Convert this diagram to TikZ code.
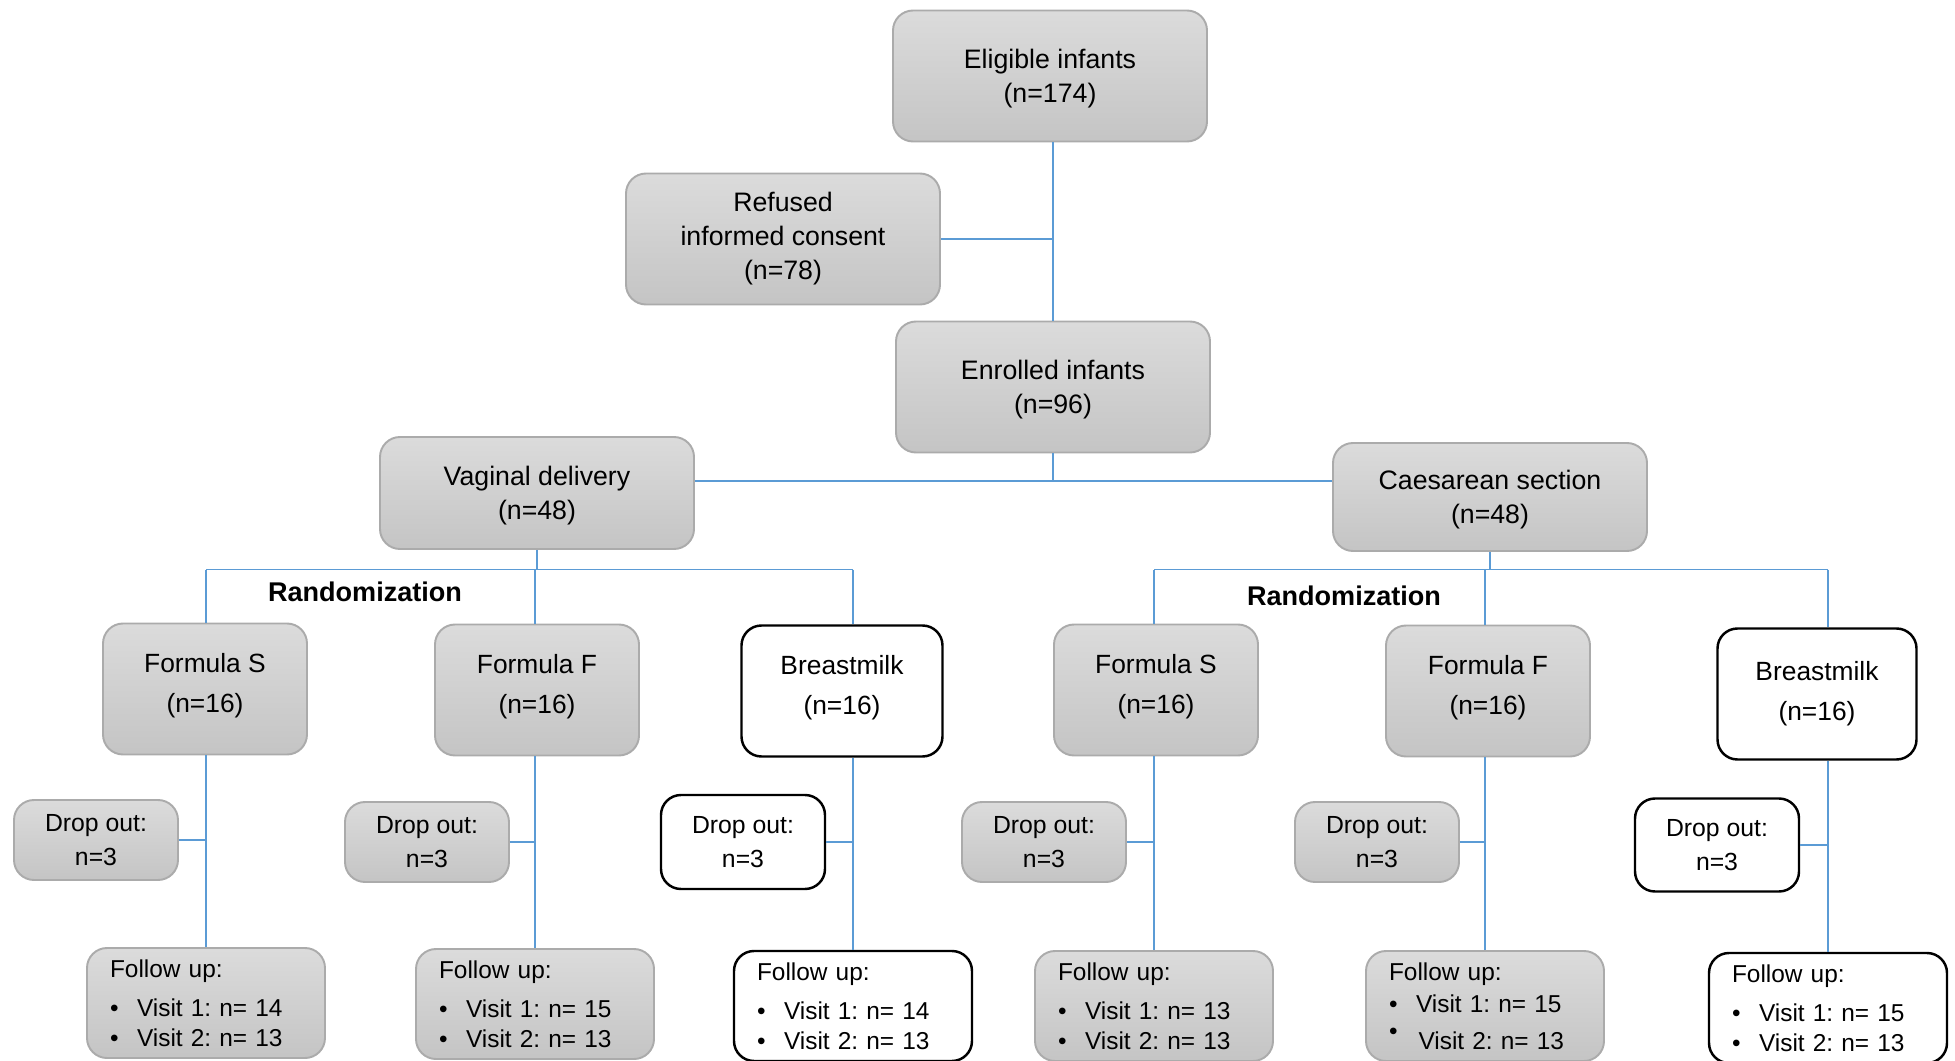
\documentclass[tikz,border=0pt]{standalone}
\usepackage{fontspec}
\setmainfont{Liberation Sans}
\frenchspacing
\tikzset{>=latex}
\usetikzlibrary{calc}
\definecolor{linkblue}{HTML}{5B9BD5}
\tikzset{
  box/.style={rectangle, rounded corners=0.4cm, align=center, inner sep=2pt},
  grbox/.style={box, draw=black!33, line width=1.1pt, top color=gray!28, bottom color=gray!46},
  whbox/.style={box, draw=black, line width=1.4pt, fill=white},
  link/.style={draw=linkblue, line width=1.1pt},
  big/.style={minimum width=6.28cm, minimum height=2.62cm, font=\fontsize{15.2}{19.3}\selectfont},
  two/.style={text depth=-0.2cm},
  arm/.style={minimum width=4.08cm, minimum height=2.62cm, text depth=0.25cm, font=\fontsize{15}{22.7}\selectfont},
  drop/.style={minimum width=3.28cm, minimum height=1.6cm, font=\fontsize{14.1}{19}\selectfont},
  fup/.style={minimum width=4.76cm, minimum height=2.2cm, text width=3.84cm, inner xsep=0.46cm,
    align=left, font=\fontsize{13.9}{17}\selectfont},
  rand/.style={font=\fontsize{15.4}{18}\selectfont\bfseries}
}
\newcommand{\bul}{\textbullet\hspace{0.37cm}}

\begin{document}
\begin{tikzpicture}
  \useasboundingbox (0,0) rectangle (39.1,-21.22);
  % top of the chart
  \node[grbox,big,two] (eli) at (21.0,-1.52) {Eligible infants\\(n=174)};
  \node[grbox,big] (ref) at (15.66,-4.78) {Refused\\informed consent\\(n=78)};
  \node[grbox,big,two] (enr) at (21.06,-7.74) {Enrolled infants\\(n=96)};
  \node[grbox,big,two,minimum height=2.24cm] (vag) at (10.74,-9.86) {Vaginal delivery\\(n=48)};
  \node[grbox,big,two,minimum height=2.16cm] (cs) at (29.8,-9.94) {Caesarean section\\(n=48)};
  \coordinate (bar) at (21.06,-9.62);
  \coordinate (br) at (0,-11.39);
  \node[rand] (rnd1) at (7.3,-11.84) {Randomization};
  \node[rand] (rnd2) at (26.88,-11.92) {Randomization};
  % study arms
  \node[grbox,arm] (arm1) at (4.10,-13.78) {Formula S\\(n=16)};
  \node[grbox,arm] (arm2) at (10.74,-13.80) {Formula F\\(n=16)};
  \node[whbox,arm,minimum width=4.02cm] (arm3) at (16.84,-13.82) {Breastmilk\\(n=16)};
  \node[grbox,arm] (arm4) at (23.12,-13.80) {Formula S\\(n=16)};
  \node[grbox,arm] (arm5) at (29.76,-13.82) {Formula F\\(n=16)};
  \node[whbox,arm,minimum width=3.98cm,text depth=0.12cm] (arm6) at (36.34,-13.88) {Breastmilk\\(n=16)};
  % drop outs
  \node[grbox,drop] (drop1) at (1.92,-16.80) {Drop out:\\n=3};
  \node[grbox,drop] (drop2) at (8.54,-16.84) {Drop out:\\n=3};
  \node[whbox,drop,minimum height=1.88cm] (drop3) at (14.86,-16.84) {Drop out:\\n=3};
  \node[grbox,drop] (drop4) at (20.88,-16.84) {Drop out:\\n=3};
  \node[grbox,drop] (drop5) at (27.54,-16.84) {Drop out:\\n=3};
  \node[whbox,drop,minimum height=1.86cm] (drop6) at (34.34,-16.90) {Drop out:\\n=3};
  % follow up
  \node[grbox,fup] (fup1) at (4.12,-20.06) {Follow up:\\[5pt]\bul Visit 1: n= 14\\\bul Visit 2: n= 13};
  \node[grbox,fup] (fup2) at (10.70,-20.08) {Follow up:\\[5pt]\bul Visit 1: n= 15\\\bul Visit 2: n= 13};
  \node[whbox,fup] (fup3) at (17.06,-20.12) {Follow up:\\[5pt]\bul Visit 1: n= 14\\\bul Visit 2: n= 13};
  \node[grbox,fup] (fup4) at (23.08,-20.12) {Follow up:\\[5pt]\bul Visit 1: n= 13\\\bul Visit 2: n= 13};
  \node[grbox,fup] (fup5) at (29.70,-20.12) {Follow up:\\[1pt]\bul Visit 1: n= 15\\[4pt]\raisebox{0.2cm}{\textbullet}\hspace{0.42cm}Visit 2: n= 13};
  \node[whbox,fup] (fup6) at (36.56,-20.16) {Follow up:\\[5pt]\bul Visit 1: n= 15\\\bul Visit 2: n= 13};
  % connectors
  \draw[link] (eli.south -| enr.north) -- (enr.north);
  \draw[link] (ref.east) -- (ref.east -| enr.north);
  \draw[link] (enr.south) -- (bar);
  \draw[link] (vag.east |- bar) -- (cs.west |- bar);
  \draw[link] (vag.south) -- (vag.south |- br);
  \draw[link] (cs.south) -- (cs.south |- br);
  \draw[link] (fup1.north |- br) -- (fup3.north |- br);
  \draw[link] (fup4.north |- br) -- (fup6.north |- br);
  \foreach \i in {1,...,6} {
    \draw[link] (fup\i.north |- br) -- (fup\i.north |- arm\i.north);
    \draw[link] (fup\i.north |- arm\i.south) -- (fup\i.north);
    \draw[link] (drop\i.east) -- (drop\i.east -| fup\i.north);
  }
\end{tikzpicture}
\end{document}
